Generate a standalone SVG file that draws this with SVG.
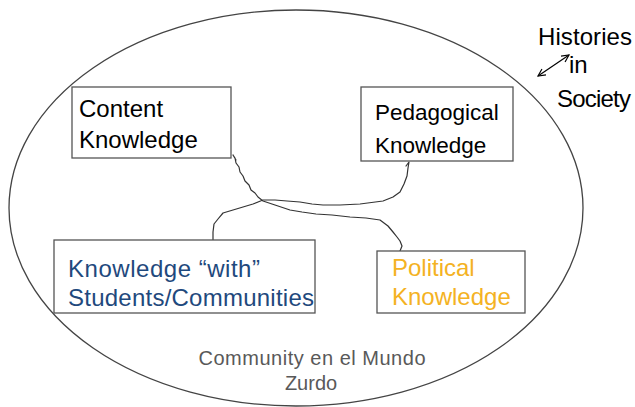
<svg xmlns="http://www.w3.org/2000/svg" width="635" height="407" viewBox="0 0 635 407">
<style>
  .box { fill: #ffffff; stroke: #555555; stroke-width: 1.3; }
  .t { font-family: "Liberation Sans", Arial, sans-serif; font-size: 24px; }
  .blk { fill: #000000; }
  .blue { fill: #1f497d; }
  .gold { fill: #f4b223; }
  .gray { fill: #595959; font-size: 20px; }
  .wire { fill: none; stroke: #333333; stroke-width: 1.2; stroke-linejoin: round; stroke-linecap: round; }
</style>
<defs>
  <marker id="vh" viewBox="0 0 10 10" refX="9" refY="5" markerWidth="9" markerHeight="9" orient="auto-start-reverse" markerUnits="userSpaceOnUse">
    <path d="M1,1 L9,5 L1,9" fill="none" stroke="#000" stroke-width="1.3"/>
  </marker>
</defs>
<rect width="635" height="407" fill="#ffffff"/>

<g id="community">
  <ellipse cx="296" cy="208" rx="287" ry="198" fill="none" stroke="#444444" stroke-width="1.3"/>
  <text class="t gray" text-anchor="middle" x="312" y="365" textLength="227">Community en el Mundo</text>
  <text class="t gray" text-anchor="middle" x="311" y="390">Zurdo</text>
</g>

<g id="histories">
  <text class="t blk" x="538" y="45" textLength="94">Histories</text>
  <text class="t blk" x="569" y="73">in</text>
  <text class="t blk" x="557" y="107" textLength="74">Society</text>
  <line x1="538" y1="76" x2="569" y2="55" stroke="#000" stroke-width="1.2" marker-start="url(#vh)" marker-end="url(#vh)"/>
</g>

<g id="connectors">
  <path class="wire" d="M236,160 L233,155 L235,158 L236,163 L239,167 L240,172 L243,176 L245,181 L249,185 L251,190 L255,193 L258,197 L263,201 L275,205 L290,210 L302,212 L316,214 L332,215 L350,217 L366,218 L380,220 L388,226 L393,232 L397,237 L400,241 L402,246 L400,251"/>
  <path class="wire" d="M213,240 L213,232 L214,224 L218,219 L223,213 L233,210 L243,207 L253,204 L263,200 L275,200 L287,201 L300,202 L312,204 L323,205 L340,205 L360,204 L383,201 L393,197 L400,192 L404,184 L407,176 L408,168 L409,162 L406,166"/>
</g>

<g id="content">
  <rect class="box" x="72" y="87" width="159" height="71"/>
  <text class="t blk" x="79" y="117">Content</text>
  <text class="t blk" x="79" y="148">Knowledge</text>
</g>

<g id="pedagogical">
  <rect class="box" x="361" y="87" width="152" height="74"/>
  <text class="t blk" x="375" y="120" font-size="22.5" style="font-size:22.5px">Pedagogical</text>
  <text class="t blk" x="375" y="153" style="font-size:22.5px">Knowledge</text>
</g>

<g id="students">
  <rect class="box" x="54" y="240" width="261" height="73"/>
  <text class="t blue" x="68" y="277" textLength="192">Knowledge “with”</text>
  <text class="t blue" x="68" y="306" textLength="246">Students/Communities</text>
</g>

<g id="political">
  <rect class="box" x="377" y="251" width="148" height="62"/>
  <text class="t gold" x="392" y="276">Political</text>
  <text class="t gold" x="392" y="305">Knowledge</text>
</g>
</svg>
